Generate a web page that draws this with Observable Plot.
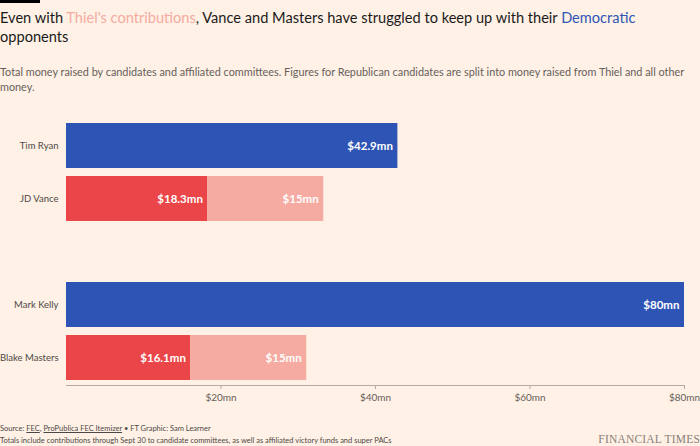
<!DOCTYPE html>
<html>
<head>
<meta charset="utf-8">
<script src="https://cdn.jsdelivr.net/npm/d3@7"></script>
<script src="https://cdn.jsdelivr.net/npm/@observablehq/plot@0.6"></script>
<style>
  html, body { margin: 0; padding: 0; background: #fff1e5; }
  #page { position: relative; width: 700px; height: 446px; overflow: hidden; background: #fff1e5; font-family: Lato, "Noto Sans", sans-serif; }
  #bar { position: absolute; left: 0; top: 0; width: 40px; height: 3px; background: #000; }
  #title { position: absolute; left: 0; top: 8px; width: 700px; font-size: 14.6px; line-height: 19px; color: #1a1a1a; }
  #title .thiel { color: #f5aba1; }
  #title .dem { color: #2f56b6; }
  #subtitle { position: absolute; left: 0; top: 64px; width: 700px; font-size: 10.85px; line-height: 15px; color: #66605c; }
  #chart { position: absolute; left: 0; top: 100px; }
  #source { position: absolute; left: 0; top: 423px; font-size: 7.5px; line-height: 12px; color: #4d4845; }
  #source u { text-decoration: underline; }
  #ft { position: absolute; right: 0; top: 433px; font-family: "Liberation Serif", "DejaVu Serif", serif; font-size: 11.5px; color: #8a8079; letter-spacing: 0.2px; }
</style>
</head>
<body>
<div id="page">
  <div id="bar"></div>
  <div id="title">Even with <span class="thiel">Thiel's contributions</span>, Vance and Masters have struggled to keep up with their <span class="dem">Democratic</span><br>opponents</div>
  <div id="subtitle">Total money raised by candidates and affiliated committees. Figures for Republican candidates are split into money raised from Thiel and all other<br>money.</div>
  <div id="chart"></div>
  <div id="source">Source: <u>FEC</u>, <u>ProPublica FEC Itemizer</u> • FT Graphic: Sam Learner<br>Totals include contributions through Sept 30 to candidate committees, as well as affiliated victory funds and super PACs</div>
  <div id="ft">FINANCIAL TIMES</div>
</div>
<script>
// ---- data ----
const candidates = ["Tim Ryan", "JD Vance", "Mark Kelly", "Blake Masters"];
const party = ["Democratic", "Republican", "Democratic", "Republican"];
const otherMoney = [42.9, 18.3, 80, 16.1];   // $mn, all other money
const thielMoney = [0, 15, 0, 15];           // $mn, money raised from Thiel
const xTicks = [20, 40, 60, 80];
const xTickLabels = ["$20mn", "$40mn", "$60mn", "$80mn"];
const spacer = " ";
const yDomain = ["Tim Ryan", "JD Vance", spacer, "Mark Kelly", "Blake Masters"];

const segKeys = ["dem", "rep", "thiel"];
const segColors = ["#2e55b5", "#ea4548", "#f5aba1"];

const rows = [];
candidates.forEach((name, i) => {
  rows.push({ name, seg: party[i] === "Democratic" ? "dem" : "rep", value: otherMoney[i] });
  if (thielMoney[i] > 0) rows.push({ name, seg: "thiel", value: thielMoney[i] });
});
const fmt = v => "$" + (Number.isInteger(v) ? v : v.toFixed(1)) + "mn";
const tickFmt = d => xTickLabels[xTicks.indexOf(d)];

const chart = Plot.plot({
  width: 700,
  height: 312,
  marginLeft: 66,
  marginRight: 16,
  marginTop: 18,
  marginBottom: 27,
  style: { background: "transparent", fontFamily: "Lato, 'Noto Sans', sans-serif", overflow: "visible" },
  x: { domain: [0, 80], ticks: xTicks, tickFormat: tickFmt, tickSize: 4, tickPadding: 4, label: null },
  y: { domain: yDomain, paddingInner: 0.16, paddingOuter: 0.075, label: null },
  color: { domain: segKeys, range: segColors },
  marks: [
    Plot.barX(rows, Plot.stackX({ x: "value", y: "name", fill: "seg", order: null })),
    Plot.text(rows, Plot.stackX2({
      x: "value", y: "name", order: null,
      text: d => fmt(d.value),
      textAnchor: "end", dx: -5, fill: "white",
      fontSize: 11.5, fontWeight: 700
    })),
    Plot.frame({ anchor: "bottom", stroke: "#b3aba4" }),
    Plot.axisX({ ticks: xTicks, tickFormat: tickFmt, tickSize: 4, tickPadding: 4, stroke: "#b3aba4", color: "#66605c", fontSize: 10 }),
    Plot.axisY({ ticks: candidates, tickSize: 0, tickPadding: 8, color: "#4d4845", fontSize: 9.5 })
  ]
});
document.getElementById("chart").appendChild(chart);
</script>
</body>
</html>
